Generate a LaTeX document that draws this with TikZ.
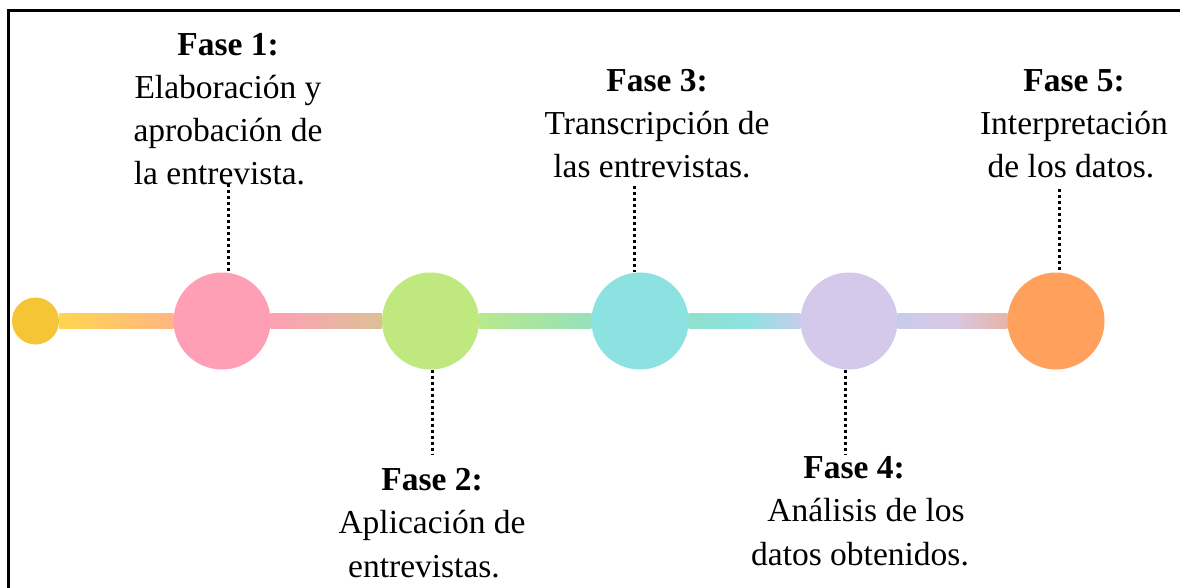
\documentclass[tikz,border=0pt]{standalone}
\usepackage{fontspec}
\setmainfont{Liberation Serif}
\usetikzlibrary{backgrounds}
\definecolor{cYel}{HTML}{F5C535}
\definecolor{cPink}{HTML}{FF9FB5}
\definecolor{cGreen}{HTML}{BFE87E}
\definecolor{cCyan}{HTML}{8BE2E0}
\definecolor{cLav}{HTML}{D4C9EA}
\definecolor{cOrange}{HTML}{FFA05C}
\definecolor{bA}{HTML}{FFD54F}
\definecolor{bB}{HTML}{FFB683}
\definecolor{bC}{HTML}{EDB0A8}
\definecolor{bD}{HTML}{DCC095}
\definecolor{bE}{HTML}{B8E88A}
\definecolor{bF}{HTML}{96E0BC}
\definecolor{bG}{HTML}{90E0CC}
\definecolor{bH}{HTML}{A8D8E8}
\definecolor{bI}{HTML}{C4CEEA}
\definecolor{bJ}{HTML}{C8CCEA}
\definecolor{bK}{HTML}{D8C8E6}
\definecolor{bL}{HTML}{E6B4A8}
\tikzset{
  phase/.style={circle, minimum size=97pt, inner sep=0pt, draw=none},
  lbl/.style={anchor=base, align=center, inner sep=0pt,
    font=\fontsize{33.5pt}{43.3pt}\selectfont},
  dotline/.style={line width=3pt, dash pattern=on 3pt off 3pt},
  barseg/.style={draw=none}
}
\begin{document}
\begin{tikzpicture}[x=1pt,y=-1pt]
\useasboundingbox (0,0) rectangle (1180,588);
\begin{scope}
\clip (0,0) rectangle (1180,588);
\draw[line width=3pt] (8,11) rectangle (1200,620);
\end{scope}
% circles
\node[phase, minimum size=47pt, fill=cYel] (c0) at (35.5,321) {};
\node[phase, fill=cPink] (c1) at (222,321) {};
\node[phase, fill=cGreen] (c2) at (430.5,321) {};
\node[phase, fill=cCyan] (c3) at (640,321) {};
\node[phase, fill=cLav] (c4) at (849,321) {};
\node[phase, fill=cOrange] (c5) at (1056,321) {};
% bar
\begin{scope}[on background layer]
\shade[barseg, left color=bA, right color=bB] ([yshift=-7.5pt]c0.east) rectangle ([yshift=7.5pt]c1.west);
\shade[barseg, left color=cPink, right color=bD, middle color=bC] ([yshift=-7.5pt]c1.east) rectangle ([yshift=7.5pt]c2.west);
\shade[barseg, left color=bE, right color=bF] ([yshift=-7.5pt]c2.east) rectangle ([yshift=7.5pt]c3.west);
\shade[barseg, left color=bG, right color=bI, middle color=cCyan] ([yshift=-7.5pt]c3.east) rectangle ([yshift=7.5pt]c4.west);
\shade[barseg, left color=bJ, right color=bL, middle color=bK] ([yshift=-7.5pt]c4.east) rectangle ([yshift=7.5pt]c5.west);
\end{scope}
% labels (anchor = baseline of last line)
\node[lbl] (t1) at (228,185) {\textbf{Fase 1:}\\Elaboración y\\aprobación de\\la entrevista.\hspace*{17pt}};
\node[lbl] (t2) at (432,577) {\textbf{Fase 2:}\\Aplicación de\\entrevistas.\hspace*{16pt}};
\node[lbl] (t3) at (657,178) {\textbf{Fase 3:}\\Transcripción de\\las entrevistas.\hspace*{10pt}};
\node[lbl] (t4) at (860,565) {\textbf{Fase 4:}\hspace*{12pt}\\\hspace*{12pt}Análisis de los\\datos obtenidos.};
\node[lbl] (t5) at (1074,178) {\textbf{Fase 5:}\\Interpretación\\de los datos.\hspace*{6pt}};
% dotted connectors
\coordinate (d1) at (228,184);
\coordinate (d2) at (432,454);
\coordinate (d3) at (634,186);
\coordinate (d4) at (845,454);
\coordinate (d5) at (1059,189);
\draw[dotline] (d1) -- (d1 |- c1.north);
\draw[dotline] (d2 |- c2.south) -- (d2);
\draw[dotline] (d3) -- (d3 |- c3.north);
\draw[dotline] (d4 |- c4.south) -- (d4);
\draw[dotline] (d5) -- (d5 |- c5.north);
\end{tikzpicture}
\end{document}
